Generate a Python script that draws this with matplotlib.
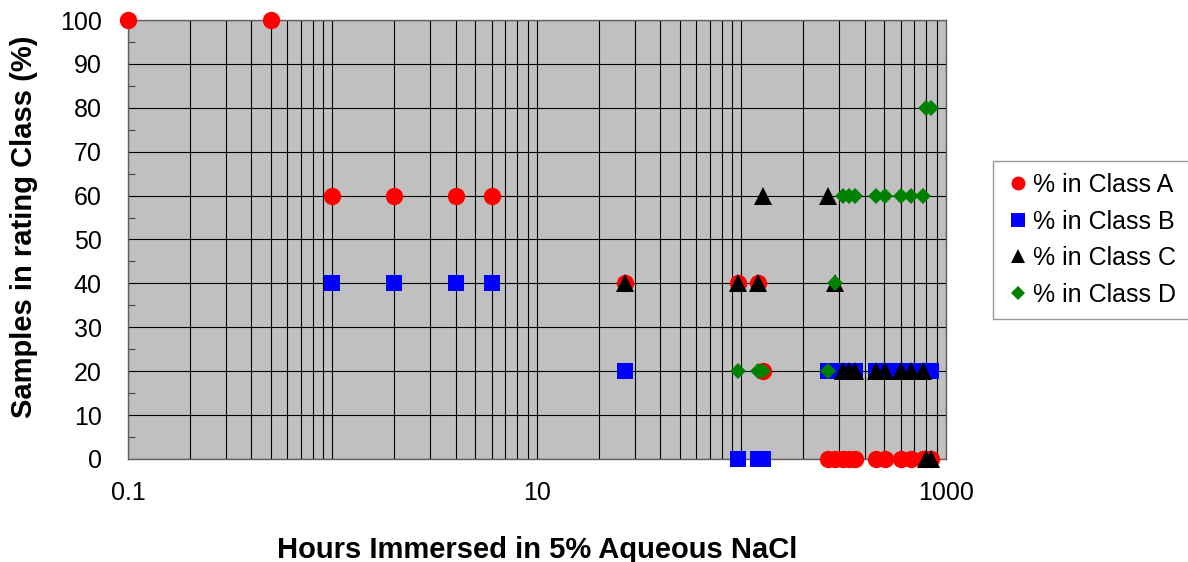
import numpy as np
import matplotlib
matplotlib.use('Agg')
import matplotlib.pyplot as plt
from matplotlib.ticker import LogLocator, FixedLocator, FuncFormatter, NullFormatter

plt.rcParams['font.family'] = ['Liberation Sans', 'DejaVu Sans']

nan = np.nan
# immersion times (hours) and % of samples in each rating class
hours = [0.1, 0.5, 1, 2, 4, 6, 27, 96, 120, 128, 264, 288, 312, 336, 360,
         456, 504, 600, 672, 768, 800, 840]
class_a = [100, 100, 60, 60, 60, 60, 40, 40, 40, 20, 0, 0, 0, 0, 0,
           0, 0, 0, 0, 0, 0, 0]
class_b = [nan, nan, 40, 40, 40, 40, 20, 0, 0, 0, 20, 20, 20, 20, 20,
           20, 20, 20, 20, 20, 20, 20]
class_c = [nan, nan, nan, nan, nan, nan, 40, 40, 40, 60, 60, 40, 20, 20, 20,
           20, 20, 20, 20, 20, 0, 0]
class_d = [nan, nan, nan, nan, nan, nan, nan, 20, 20, 20, 20, 40, 60, 60, 60,
           60, 60, 60, 60, 60, 80, 80]

series = [
    (class_a, 'o', '#FF0000', 12.5, '% in Class A'),
    (class_b, 's', '#0000FF', 12.0, '% in Class B'),
    (class_c, '^', '#000000', 12.5, '% in Class C'),
    (class_d, 'D', '#008000', 8.5, '% in Class D'),
]

fig = plt.figure(figsize=(11.88, 5.62), dpi=100)
ax = fig.add_axes([0.1077, 0.1833, 0.6886, 0.7811])
ax.set_facecolor('#C0C0C0')

for vals, mk, col, ms, lab in series:
    ax.plot(hours, vals, linestyle='none', marker=mk, color=col,
            markersize=ms, markeredgewidth=0, label=lab, clip_on=False,
            zorder=3)

ax.set_xscale('log')
ax.set_xlim(0.1, 1000)
ax.set_ylim(0, 100)

ax.xaxis.set_major_locator(LogLocator(base=10, numticks=10))
ax.xaxis.set_minor_locator(LogLocator(base=10, subs=np.arange(2, 10), numticks=20))
ax.xaxis.set_major_formatter(FuncFormatter(
    lambda v, p: {0.1: '0.1', 10: '10', 1000: '1000'}.get(round(v, 3), '')))
ax.xaxis.set_minor_formatter(NullFormatter())
ax.set_yticks(np.arange(0, 101, 10))
ax.yaxis.set_minor_locator(FixedLocator(np.arange(5, 100, 10)))

ax.grid(True, which='both', axis='x', color='black', linewidth=0.8)
ax.grid(True, which='major', axis='y', color='black', linewidth=0.8)
ax.set_axisbelow(True)

ax.tick_params(axis='x', which='both', length=0, labelsize=18, pad=16)
ax.tick_params(axis='y', which='major', length=0, labelsize=18, pad=19)
ax.tick_params(axis='y', which='minor', direction='in', length=5,
               width=0.8, color='#404040')
for sp in ax.spines.values():
    sp.set_color('#606060')
    sp.set_linewidth(1)

ax.set_xlabel('Hours Immersed in 5% Aqueous NaCl', fontsize=21,
              fontweight='bold', labelpad=22)
ax.set_ylabel('Samples in rating Class (%)', fontsize=21, fontweight='bold')
ax.yaxis.set_label_coords(-0.11, 0.528)

leg = fig.legend(loc='center left', bbox_to_anchor=(0.836, 0.573),
                 fontsize=18, frameon=True, fancybox=False, handletextpad=0.1,
                 handlelength=1.0, borderpad=0.5, labelspacing=0.5,
                 borderaxespad=0)
leg.get_frame().set_edgecolor('#808080')
leg.get_frame().set_linewidth(1)
for h in leg.legend_handles:
    h.set_markersize(h.get_markersize() * 0.8)

fig.savefig('out.png', dpi=100)
